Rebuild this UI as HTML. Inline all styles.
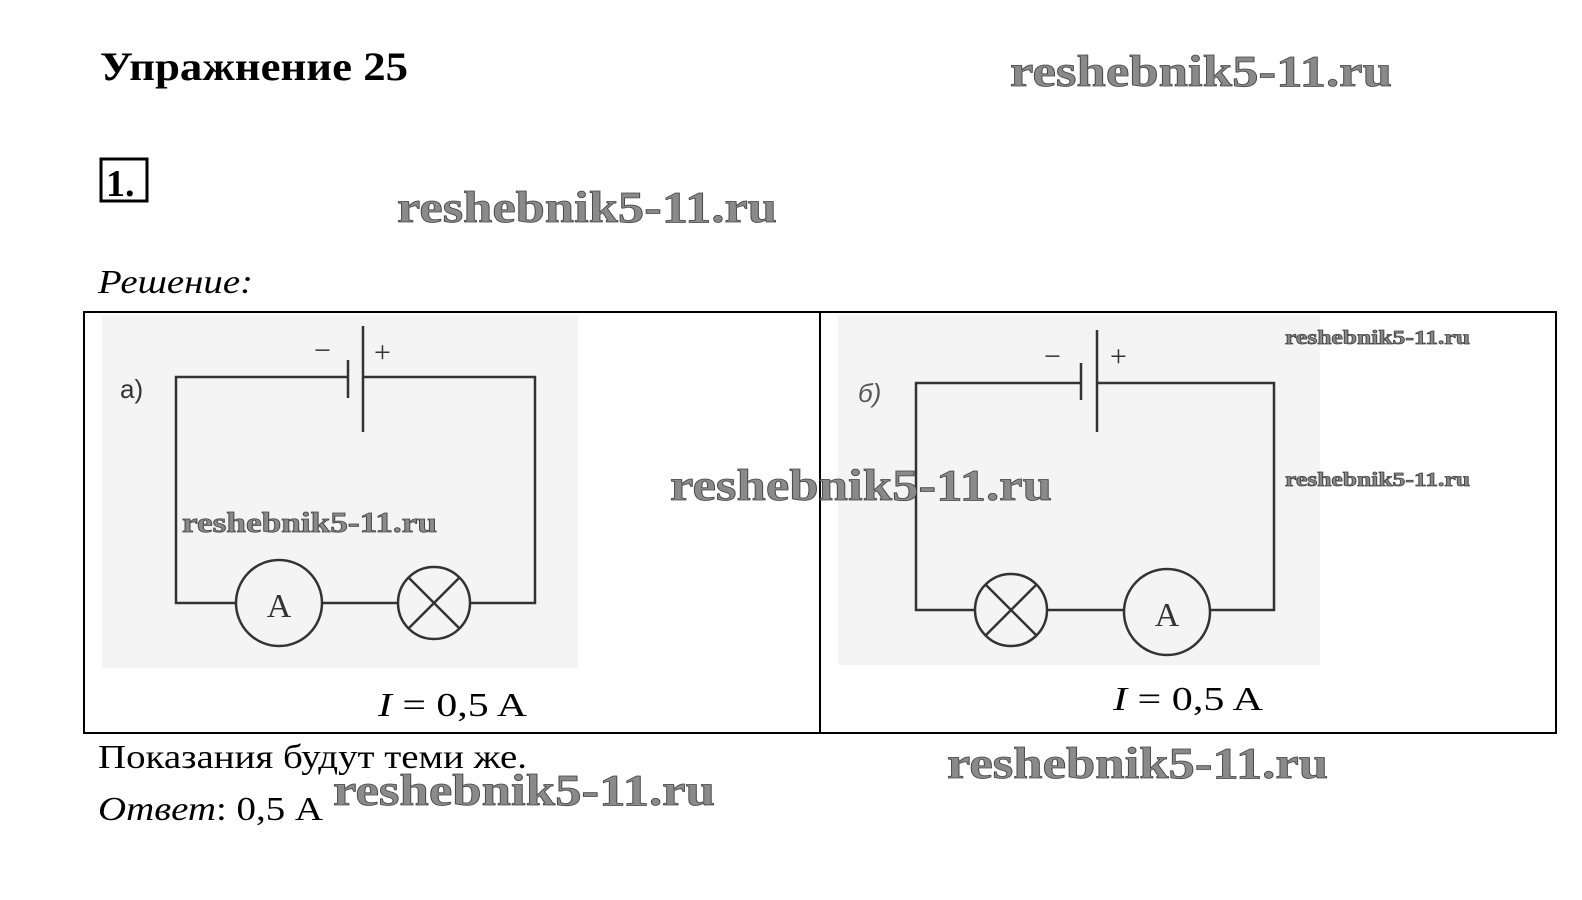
<!DOCTYPE html>
<html><head><meta charset="utf-8"><style>
html,body{margin:0;padding:0;background:#fff;overflow:hidden;width:1582px;height:900px;}
svg{display:block;}
.wm{font-family:"Liberation Serif",serif;font-weight:bold;fill:#8a8a8a;stroke:#444;stroke-width:0.8;}
.c{stroke:#333;stroke-width:2.5;fill:none;}
.t{font-family:"Liberation Serif",serif;fill:#000;}
</style></head><body>
<svg width="1582" height="900" viewBox="0 0 1582 900" xmlns="http://www.w3.org/2000/svg">
<rect width="1582" height="900" fill="#fff"/>
<text class="t" x="100" y="80" font-size="40" font-weight="bold" textLength="308" lengthAdjust="spacingAndGlyphs">Упражнение 25</text>
<text class="wm" x="1010" y="86" font-size="44" textLength="382" lengthAdjust="spacingAndGlyphs">reshebnik5-11.ru</text>
<rect x="101" y="159" width="46" height="42" fill="none" stroke="#000" stroke-width="3"/>
<text class="t" x="106" y="196" font-size="38" font-weight="bold">1.</text>
<text class="wm" x="397" y="222" font-size="44" textLength="380" lengthAdjust="spacingAndGlyphs">reshebnik5-11.ru</text>
<text class="t" x="98" y="293" font-size="34" font-style="italic" textLength="155" lengthAdjust="spacingAndGlyphs">Решение:</text>

<rect x="102" y="315" width="476" height="353" fill="#f4f4f4"/>
<rect x="838" y="315" width="482" height="350" fill="#f4f4f4"/>
<rect x="84" y="312" width="1472" height="421" fill="none" stroke="#000" stroke-width="2"/>
<line x1="820" y1="312" x2="820" y2="733" stroke="#000" stroke-width="2"/>

<g class="c">
<polyline points="348,377 176,377 176,603 236,603"/>
<polyline points="363,377 535,377 535,603 470,603"/>
<line x1="322" y1="603" x2="398" y2="603"/>
<line x1="348" y1="360" x2="348" y2="398"/>
<line x1="363" y1="326" x2="363" y2="432"/>
<circle cx="279" cy="603" r="43"/>
<circle cx="434" cy="603" r="36"/>
<line x1="409" y1="578" x2="459" y2="628"/>
<line x1="459" y1="578" x2="409" y2="628"/>
</g>
<text x="120" y="398" font-family="Liberation Sans,sans-serif" font-size="26" fill="#333">a)</text>
<text x="314" y="360" font-family="Liberation Serif,serif" font-size="30" fill="#333">−</text>
<text x="374" y="362" font-family="Liberation Serif,serif" font-size="30" fill="#333">+</text>
<text x="279" y="617" text-anchor="middle" font-family="Liberation Serif,serif" font-size="34" fill="#333">A</text>
<text class="wm" x="182" y="532" font-size="28" textLength="255" lengthAdjust="spacingAndGlyphs">reshebnik5-11.ru</text>
<text class="t" x="378" y="716" font-size="34" textLength="149" lengthAdjust="spacingAndGlyphs"><tspan font-style="italic">I</tspan> = 0,5 A</text>

<g class="c">
<polyline points="1081,383 916,383 916,610 975,610"/>
<polyline points="1097,383 1274,383 1274,610 1210,610"/>
<line x1="1047" y1="610" x2="1124" y2="610"/>
<line x1="1081" y1="363" x2="1081" y2="400"/>
<line x1="1097" y1="330" x2="1097" y2="432"/>
<circle cx="1011" cy="610" r="36"/>
<line x1="986" y1="585" x2="1036" y2="635"/>
<line x1="1036" y1="585" x2="986" y2="635"/>
<circle cx="1167" cy="612" r="43"/>
</g>
<text x="858" y="402" font-family="Liberation Sans,sans-serif" font-size="26" font-style="italic" fill="#555">б)</text>
<text x="1044" y="366" font-family="Liberation Serif,serif" font-size="30" fill="#333">−</text>
<text x="1110" y="366" font-family="Liberation Serif,serif" font-size="30" fill="#333">+</text>
<text x="1167" y="626" text-anchor="middle" font-family="Liberation Serif,serif" font-size="34" fill="#333">A</text>
<text class="wm" x="1285" y="344" font-size="20" textLength="185" lengthAdjust="spacingAndGlyphs" stroke-width="0.4">reshebnik5-11.ru</text>
<text class="wm" x="1285" y="486" font-size="20" textLength="185" lengthAdjust="spacingAndGlyphs" stroke-width="0.4">reshebnik5-11.ru</text>
<text class="wm" x="670" y="500" font-size="44" textLength="382" lengthAdjust="spacingAndGlyphs">reshebnik5-11.ru</text>
<text class="t" x="1113" y="710" font-size="34" textLength="150" lengthAdjust="spacingAndGlyphs"><tspan font-style="italic">I</tspan> = 0,5 A</text>

<text class="t" x="98" y="768" font-size="34" textLength="429" lengthAdjust="spacingAndGlyphs">Показания будут теми же.</text>
<text class="t" x="98" y="820" font-size="34" textLength="225" lengthAdjust="spacingAndGlyphs"><tspan font-style="italic">Ответ</tspan>: 0,5 А</text>
<text class="wm" x="333" y="805" font-size="44" textLength="382" lengthAdjust="spacingAndGlyphs">reshebnik5-11.ru</text>
<text class="wm" x="947" y="778" font-size="44" textLength="381" lengthAdjust="spacingAndGlyphs">reshebnik5-11.ru</text>
</svg>
</body></html>
